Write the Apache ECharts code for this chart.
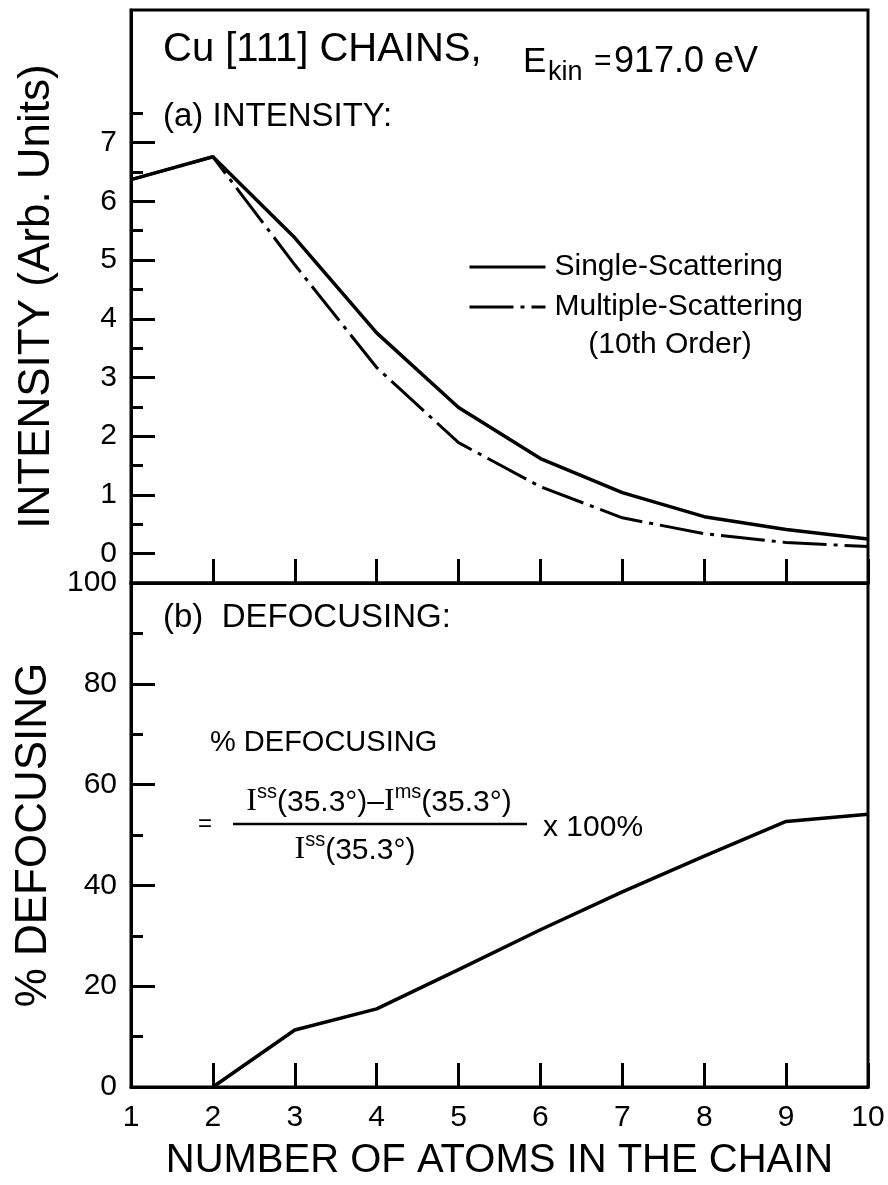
<!DOCTYPE html>
<html><head><meta charset="utf-8">
<script src="https://cdn.jsdelivr.net/npm/echarts@6/dist/echarts.min.js"></script>
<style>html,body{margin:0;padding:0;background:#fff}#c{width:888px;height:1185px}</style>
</head><body><div id="c"></div>
<script>
// ---- data ----
const atoms = [1, 2, 3, 4, 5, 6, 7, 8, 9, 10];
const singleScattering = [6.37, 6.76, 5.38, 3.76, 2.49, 1.62, 1.04, 0.63, 0.41, 0.25];
const multipleScattering = [6.37, 6.76, 4.92, 3.17, 1.89, 1.14, 0.61, 0.34, 0.19, 0.12];
const defocusing = [null, 0, 11.3, 15.5, 23.3, 31.2, 38.7, 45.8, 52.7, 54.1];
const intensityTicks = [0, 1, 2, 3, 4, 5, 6, 7];
const intensityMinorTicks = [0.5, 1.5, 2.5, 3.5, 4.5, 5.5, 6.5, 7.5];
const seriesNames = ['Single-Scattering', 'Multiple-Scattering'];

const pairs = (xs, ys) => xs.map((x, i) => [x, ys[i]]).filter(p => p[1] !== null);

const FONT = 'Liberation Sans';
const BLACK = '#000';
const axisLine = { show: true, onZero: false, lineStyle: { color: BLACK, width: 3 } };

const chart = echarts.init(document.getElementById('c'), null, { renderer: 'canvas' });

function txt(x, y, text, size, align, family) {
  return { type: 'text', x: x, y: y, style: { text: text, font: size + 'px "' + (family || FONT) + '"', fill: BLACK,
    textAlign: align || 'left', textVerticalAlign: 'middle', align: align || 'left', verticalAlign: 'middle' } };
}
const richStyles = {
  I: { font: '32px "Liberation Serif"', fill: BLACK, lineHeight: 36, verticalAlign: 'bottom' },
  s: { font: '20px "Liberation Sans"', fill: BLACK, lineHeight: 36, verticalAlign: 'top' },
  n: { font: '30px "Liberation Sans"', fill: BLACK, lineHeight: 36, verticalAlign: 'bottom' }
};

const option = {
  backgroundColor: '#fff',
  animation: false,
  textStyle: { fontFamily: FONT, color: BLACK },
  grid: [
    { left: 131, right: 20, top: 10, height: 573, show: true, borderColor: BLACK, borderWidth: 3, backgroundColor: 'transparent' },
    { left: 131, right: 20, top: 583, height: 504, show: true, borderColor: BLACK, borderWidth: 3, backgroundColor: 'transparent' }
  ],
  xAxis: [
    { gridIndex: 0, type: 'value', min: 1, max: 10, interval: 1, axisLine: axisLine,
      axisTick: { inside: true, length: 24, lineStyle: { color: BLACK, width: 3 } },
      axisLabel: { show: false }, splitLine: { show: false } },
    { gridIndex: 1, type: 'value', min: 1, max: 10, interval: 1, axisLine: axisLine,
      axisTick: { inside: true, length: 24, lineStyle: { color: BLACK, width: 3 } },
      axisLabel: { show: true, fontSize: 30, color: BLACK, margin: 16, fontFamily: FONT },
      splitLine: { show: false },
      name: 'NUMBER OF ATOMS IN THE CHAIN', nameLocation: 'middle', nameGap: 54,
      nameTextStyle: { fontSize: 40, color: BLACK, fontFamily: FONT } }
  ],
  yAxis: [
    { gridIndex: 0, type: 'value', min: -0.5, max: 9.26, axisLine: axisLine,
      axisTick: { inside: true, length: 24, customValues: intensityTicks, lineStyle: { color: BLACK, width: 3 } },
      axisLabel: { show: true, customValues: intensityTicks, fontSize: 30, color: BLACK, margin: 14, fontFamily: FONT },
      splitLine: { show: false },
      name: 'INTENSITY (Arb. Units)', nameLocation: 'middle', nameGap: 72,
      nameTextStyle: { fontSize: 44, color: BLACK, fontFamily: FONT } },
    { gridIndex: 0, type: 'value', min: -0.5, max: 9.26, position: 'left', axisLine: { show: false, onZero: false },
      axisTick: { inside: true, length: 12, customValues: intensityMinorTicks, lineStyle: { color: BLACK, width: 3 } },
      axisLabel: { show: false }, splitLine: { show: false } },
    { gridIndex: 1, type: 'value', min: 0, max: 100, interval: 20, axisLine: axisLine,
      axisTick: { inside: true, length: 24, lineStyle: { color: BLACK, width: 3 } },
      axisLabel: { show: true, fontSize: 30, color: BLACK, margin: 14, fontFamily: FONT },
      splitLine: { show: false },
      name: '% DEFOCUSING', nameLocation: 'middle', nameGap: 72,
      nameTextStyle: { fontSize: 44, color: BLACK, fontFamily: FONT } },
    { gridIndex: 1, type: 'value', min: 0, max: 100, interval: 10, position: 'left', axisLine: { show: false, onZero: false },
      axisTick: { inside: true, length: 12, lineStyle: { color: BLACK, width: 3 } },
      axisLabel: { show: false }, splitLine: { show: false } }
  ],
  legend: {
    data: seriesNames, orient: 'vertical', left: 468, top: 252, padding: 0,
    itemWidth: 76, itemHeight: 14, itemGap: 10,
    itemStyle: { opacity: 0 },
    lineStyle: { width: 3 },
    textStyle: { fontSize: 30, color: BLACK, fontFamily: FONT, lineHeight: 30, padding: [0, 0, 0, 4] }
  },
  series: [
    { name: seriesNames[0], type: 'line', xAxisIndex: 0, yAxisIndex: 0, data: pairs(atoms, singleScattering),
      symbol: 'none', lineStyle: { color: BLACK, width: 3.5 }, itemStyle: { color: BLACK }, z: 3 },
    { name: seriesNames[1], type: 'line', xAxisIndex: 0, yAxisIndex: 0, data: pairs(atoms, multipleScattering),
      symbol: 'none', lineStyle: { color: BLACK, width: 3, type: [44, 7, 4, 7] }, itemStyle: { color: BLACK }, z: 2 },
    { name: '% Defocusing', type: 'line', xAxisIndex: 1, yAxisIndex: 2, data: pairs(atoms, defocusing),
      symbol: 'none', lineStyle: { color: BLACK, width: 3.5 }, itemStyle: { color: BLACK } }
  ],
  graphic: [
    txt(163, 50, 'Cu [111] CHAINS,', 40),
    txt(523, 62, 'E', 35),
    txt(548, 73, 'kin', 27),
    txt(594, 62, '=', 30),
    txt(614, 62, '917.0 eV', 36),
    txt(163, 117, '(a) INTENSITY:', 33),
    txt(670, 345, '(10th Order)', 30, 'center'),
    txt(163, 618, '(b)  DEFOCUSING:', 33),
    txt(210, 743, '% DEFOCUSING', 29),
    txt(205, 824, '=', 24, 'center'),
    { type: 'text', x: 379, y: 800, style: {
        text: '{I|I}{s|ss}{n|(35.3°)–}{I|I}{s|ms}{n|(35.3°)}', textAlign: 'center', textVerticalAlign: 'middle',
        align: 'center', verticalAlign: 'middle', fill: BLACK, rich: richStyles } },
    { type: 'line', shape: { x1: 233, y1: 824, x2: 527, y2: 824 }, style: { stroke: BLACK, lineWidth: 2.5 } },
    { type: 'text', x: 355, y: 848, style: {
        text: '{I|I}{s|ss}{n|(35.3°)}', textAlign: 'center', textVerticalAlign: 'middle',
        align: 'center', verticalAlign: 'middle', fill: BLACK, rich: richStyles } },
    txt(543, 828, 'x 100%', 30)
  ]
};
chart.setOption(option);
</script>
</body></html>
